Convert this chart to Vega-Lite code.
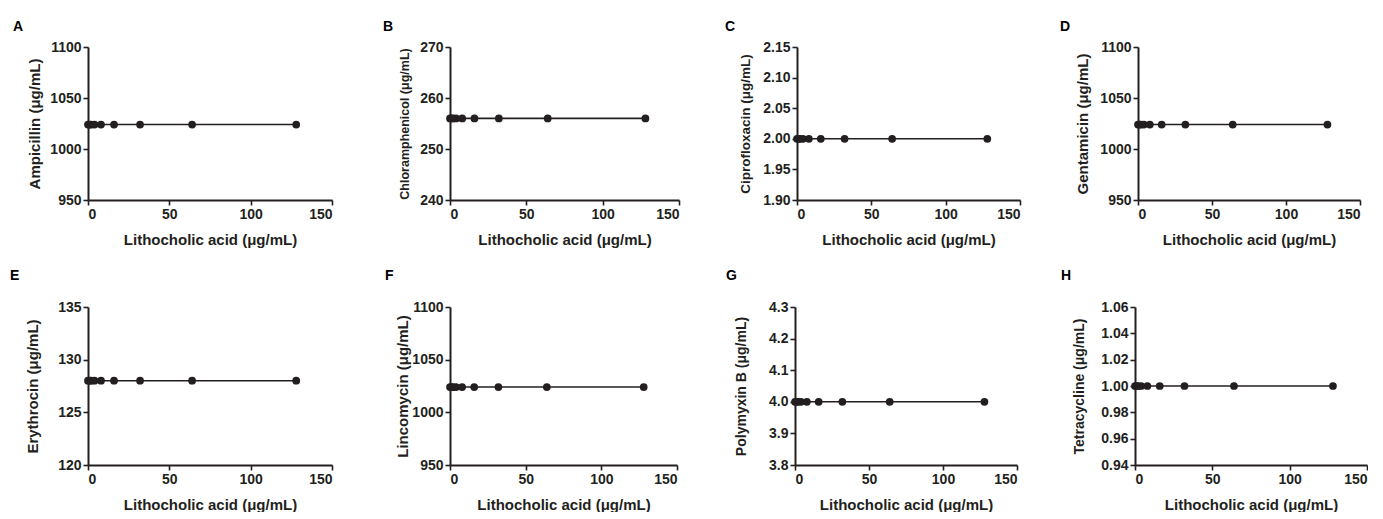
{
  "$schema": "https://vega.github.io/schema/vega-lite/v6.json",
  "padding": {"left": 10, "top": 20, "right": 0, "bottom": 0},
  "background": "white",
  "datasets": {
    "mic": [
      {"drug": "Ampicillin", "conc": 0, "mic": 1024}, {"drug": "Ampicillin", "conc": 1, "mic": 1024}, {"drug": "Ampicillin", "conc": 2, "mic": 1024}, {"drug": "Ampicillin", "conc": 4, "mic": 1024}, {"drug": "Ampicillin", "conc": 8, "mic": 1024}, {"drug": "Ampicillin", "conc": 16, "mic": 1024}, {"drug": "Ampicillin", "conc": 32, "mic": 1024}, {"drug": "Ampicillin", "conc": 64, "mic": 1024}, {"drug": "Ampicillin", "conc": 128, "mic": 1024},
      {"drug": "Chloramphenicol", "conc": 0, "mic": 256}, {"drug": "Chloramphenicol", "conc": 1, "mic": 256}, {"drug": "Chloramphenicol", "conc": 2, "mic": 256}, {"drug": "Chloramphenicol", "conc": 4, "mic": 256}, {"drug": "Chloramphenicol", "conc": 8, "mic": 256}, {"drug": "Chloramphenicol", "conc": 16, "mic": 256}, {"drug": "Chloramphenicol", "conc": 32, "mic": 256}, {"drug": "Chloramphenicol", "conc": 64, "mic": 256}, {"drug": "Chloramphenicol", "conc": 128, "mic": 256},
      {"drug": "Ciprofloxacin", "conc": 0, "mic": 2}, {"drug": "Ciprofloxacin", "conc": 1, "mic": 2}, {"drug": "Ciprofloxacin", "conc": 2, "mic": 2}, {"drug": "Ciprofloxacin", "conc": 4, "mic": 2}, {"drug": "Ciprofloxacin", "conc": 8, "mic": 2}, {"drug": "Ciprofloxacin", "conc": 16, "mic": 2}, {"drug": "Ciprofloxacin", "conc": 32, "mic": 2}, {"drug": "Ciprofloxacin", "conc": 64, "mic": 2}, {"drug": "Ciprofloxacin", "conc": 128, "mic": 2},
      {"drug": "Gentamicin", "conc": 0, "mic": 1024}, {"drug": "Gentamicin", "conc": 1, "mic": 1024}, {"drug": "Gentamicin", "conc": 2, "mic": 1024}, {"drug": "Gentamicin", "conc": 4, "mic": 1024}, {"drug": "Gentamicin", "conc": 8, "mic": 1024}, {"drug": "Gentamicin", "conc": 16, "mic": 1024}, {"drug": "Gentamicin", "conc": 32, "mic": 1024}, {"drug": "Gentamicin", "conc": 64, "mic": 1024}, {"drug": "Gentamicin", "conc": 128, "mic": 1024},
      {"drug": "Erythrocin", "conc": 0, "mic": 128}, {"drug": "Erythrocin", "conc": 1, "mic": 128}, {"drug": "Erythrocin", "conc": 2, "mic": 128}, {"drug": "Erythrocin", "conc": 4, "mic": 128}, {"drug": "Erythrocin", "conc": 8, "mic": 128}, {"drug": "Erythrocin", "conc": 16, "mic": 128}, {"drug": "Erythrocin", "conc": 32, "mic": 128}, {"drug": "Erythrocin", "conc": 64, "mic": 128}, {"drug": "Erythrocin", "conc": 128, "mic": 128},
      {"drug": "Lincomycin", "conc": 0, "mic": 1024}, {"drug": "Lincomycin", "conc": 1, "mic": 1024}, {"drug": "Lincomycin", "conc": 2, "mic": 1024}, {"drug": "Lincomycin", "conc": 4, "mic": 1024}, {"drug": "Lincomycin", "conc": 8, "mic": 1024}, {"drug": "Lincomycin", "conc": 16, "mic": 1024}, {"drug": "Lincomycin", "conc": 32, "mic": 1024}, {"drug": "Lincomycin", "conc": 64, "mic": 1024}, {"drug": "Lincomycin", "conc": 128, "mic": 1024},
      {"drug": "Polymyxin B", "conc": 0, "mic": 4}, {"drug": "Polymyxin B", "conc": 1, "mic": 4}, {"drug": "Polymyxin B", "conc": 2, "mic": 4}, {"drug": "Polymyxin B", "conc": 4, "mic": 4}, {"drug": "Polymyxin B", "conc": 8, "mic": 4}, {"drug": "Polymyxin B", "conc": 16, "mic": 4}, {"drug": "Polymyxin B", "conc": 32, "mic": 4}, {"drug": "Polymyxin B", "conc": 64, "mic": 4}, {"drug": "Polymyxin B", "conc": 128, "mic": 4},
      {"drug": "Tetracycline", "conc": 0, "mic": 1}, {"drug": "Tetracycline", "conc": 1, "mic": 1}, {"drug": "Tetracycline", "conc": 2, "mic": 1}, {"drug": "Tetracycline", "conc": 4, "mic": 1}, {"drug": "Tetracycline", "conc": 8, "mic": 1}, {"drug": "Tetracycline", "conc": 16, "mic": 1}, {"drug": "Tetracycline", "conc": 32, "mic": 1}, {"drug": "Tetracycline", "conc": 64, "mic": 1}, {"drug": "Tetracycline", "conc": 128, "mic": 1}
    ]
  },
  "data": {"name": "mic"},
  "spacing": 22,
  "vconcat": [
    {
      "bounds": "flush",
      "spacing": 118,
      "hconcat": [
        {
          "width": 244, "height": 153,
          "title": {"text": "A", "offset": 6, "dx": -75},
          "transform": [{"filter": "datum.drug === 'Ampicillin'"}],
          "encoding": {
            "x": {"field": "conc", "type": "quantitative", "scale": {"domain": [0, 150], "nice": false}, "axis": {"values": [0, 50, 100, 150], "title": "Lithocholic acid (μg/mL)"}},
            "y": {"field": "mic", "type": "quantitative", "scale": {"domain": [950, 1100], "nice": false, "zero": false}, "axis": {"values": [950, 1000, 1050, 1100], "format": "d", "title": "Ampicillin (μg/mL)", "minExtent": 46, "maxExtent": 46}}
          },
          "layer": [
            {"mark": {"type": "line", "color": "#231f20", "strokeWidth": 1.6}},
            {"mark": {"type": "point", "filled": true, "color": "#231f20", "opacity": 1, "size": 60}}
          ]
        },
        {
          "width": 229, "height": 153,
          "title": {"text": "B", "offset": 6, "dx": -67},
          "transform": [{"filter": "datum.drug === 'Chloramphenicol'"}],
          "encoding": {
            "x": {"field": "conc", "type": "quantitative", "scale": {"domain": [0, 150], "nice": false}, "axis": {"values": [0, 50, 100, 150], "title": "Lithocholic acid (μg/mL)"}},
            "y": {"field": "mic", "type": "quantitative", "scale": {"domain": [240, 270], "nice": false, "zero": false}, "axis": {"values": [240, 250, 260, 270], "format": "d", "title": "Chloramphenicol (μg/mL)", "titleFontSize": 12.5, "minExtent": 39, "maxExtent": 39}}
          },
          "layer": [
            {"mark": {"type": "line", "color": "#231f20", "strokeWidth": 1.6}},
            {"mark": {"type": "point", "filled": true, "color": "#231f20", "opacity": 1, "size": 60}}
          ]
        },
        {
          "width": 223, "height": 153,
          "title": {"text": "C", "offset": 6, "dx": -72},
          "transform": [{"filter": "datum.drug === 'Ciprofloxacin'"}],
          "encoding": {
            "x": {"field": "conc", "type": "quantitative", "scale": {"domain": [0, 150], "nice": false}, "axis": {"values": [0, 50, 100, 150], "title": "Lithocholic acid (μg/mL)"}},
            "y": {"field": "mic", "type": "quantitative", "scale": {"domain": [1.9, 2.15], "nice": false, "zero": false}, "axis": {"values": [1.9, 1.95, 2.0, 2.05, 2.1, 2.15], "format": ".2f", "title": "Ciprofloxacin (μg/mL)", "titleFontSize": 13.5, "minExtent": 45, "maxExtent": 45}}
          },
          "layer": [
            {"mark": {"type": "line", "color": "#231f20", "strokeWidth": 1.6}},
            {"mark": {"type": "point", "filled": true, "color": "#231f20", "opacity": 1, "size": 60}}
          ]
        },
        {
          "width": 222, "height": 153,
          "title": {"text": "D", "offset": 6, "dx": -78},
          "transform": [{"filter": "datum.drug === 'Gentamicin'"}],
          "encoding": {
            "x": {"field": "conc", "type": "quantitative", "scale": {"domain": [0, 150], "nice": false}, "axis": {"values": [0, 50, 100, 150], "title": "Lithocholic acid (μg/mL)"}},
            "y": {"field": "mic", "type": "quantitative", "scale": {"domain": [950, 1100], "nice": false, "zero": false}, "axis": {"values": [950, 1000, 1050, 1100], "format": "d", "title": "Gentamicin (μg/mL)", "minExtent": 48, "maxExtent": 48}}
          },
          "layer": [
            {"mark": {"type": "line", "color": "#231f20", "strokeWidth": 1.6}},
            {"mark": {"type": "point", "filled": true, "color": "#231f20", "opacity": 1, "size": 60}}
          ]
        }
      ]
    },
    {
      "bounds": "flush",
      "spacing": 118,
      "hconcat": [
        {
          "width": 244, "height": 158,
          "title": {"text": "E", "offset": 17, "dx": -78},
          "transform": [{"filter": "datum.drug === 'Erythrocin'"}],
          "encoding": {
            "x": {"field": "conc", "type": "quantitative", "scale": {"domain": [0, 150], "nice": false}, "axis": {"values": [0, 50, 100, 150], "title": "Lithocholic acid (μg/mL)"}},
            "y": {"field": "mic", "type": "quantitative", "scale": {"domain": [120, 135], "nice": false, "zero": false}, "axis": {"values": [120, 125, 130, 135], "format": "d", "title": "Erythrocin (μg/mL)", "minExtent": 48, "maxExtent": 48}}
          },
          "layer": [
            {"mark": {"type": "line", "color": "#231f20", "strokeWidth": 1.6}},
            {"mark": {"type": "point", "filled": true, "color": "#231f20", "opacity": 1, "size": 60}}
          ]
        },
        {
          "width": 227, "height": 158,
          "title": {"text": "F", "offset": 17, "dx": -65},
          "transform": [{"filter": "datum.drug === 'Lincomycin'"}],
          "encoding": {
            "x": {"field": "conc", "type": "quantitative", "scale": {"domain": [0, 150], "nice": false}, "axis": {"values": [0, 50, 100, 150], "title": "Lithocholic acid (μg/mL)"}},
            "y": {"field": "mic", "type": "quantitative", "scale": {"domain": [950, 1100], "nice": false, "zero": false}, "axis": {"values": [950, 1000, 1050, 1100], "format": "d", "title": "Lincomycin (μg/mL)", "minExtent": 40, "maxExtent": 40}}
          },
          "layer": [
            {"mark": {"type": "line", "color": "#231f20", "strokeWidth": 1.6}},
            {"mark": {"type": "point", "filled": true, "color": "#231f20", "opacity": 1, "size": 60}}
          ]
        },
        {
          "width": 222, "height": 158,
          "title": {"text": "G", "offset": 17, "dx": -69},
          "transform": [{"filter": "datum.drug === 'Polymyxin B'"}],
          "encoding": {
            "x": {"field": "conc", "type": "quantitative", "scale": {"domain": [0, 150], "nice": false}, "axis": {"values": [0, 50, 100, 150], "title": "Lithocholic acid (μg/mL)"}},
            "y": {"field": "mic", "type": "quantitative", "scale": {"domain": [3.8, 4.3], "nice": false, "zero": false}, "axis": {"values": [3.8, 3.9, 4.0, 4.1, 4.2, 4.3], "format": ".1f", "title": "Polymyxin B (μg/mL)", "titleFontSize": 14, "minExtent": 47, "maxExtent": 47}}
          },
          "layer": [
            {"mark": {"type": "line", "color": "#231f20", "strokeWidth": 1.6}},
            {"mark": {"type": "point", "filled": true, "color": "#231f20", "opacity": 1, "size": 60}}
          ]
        },
        {
          "width": 232, "height": 158,
          "title": {"text": "H", "offset": 17, "dx": -74},
          "transform": [{"filter": "datum.drug === 'Tetracycline'"}],
          "encoding": {
            "x": {"field": "conc", "type": "quantitative", "scale": {"domain": [0, 150], "nice": false}, "axis": {"values": [0, 50, 100, 150], "title": "Lithocholic acid (μg/mL)"}},
            "y": {"field": "mic", "type": "quantitative", "scale": {"domain": [0.94, 1.06], "nice": false, "zero": false}, "axis": {"values": [0.94, 0.96, 0.98, 1.0, 1.02, 1.04, 1.06], "format": ".2f", "title": "Tetracycline (μg/mL)", "titleFontSize": 14, "minExtent": 49, "maxExtent": 49}}
          },
          "layer": [
            {"mark": {"type": "line", "color": "#231f20", "strokeWidth": 1.6}},
            {"mark": {"type": "point", "filled": true, "color": "#231f20", "opacity": 1, "size": 60}}
          ]
        }
      ]
    }
  ],
  "config": {
    "view": {"stroke": null},
    "font": "Liberation Sans",
    "title": {"font": "Liberation Sans", "fontSize": 14, "fontWeight": "bold", "anchor": "start", "frame": "group", "color": "#000000"},
    "axis": {
      "grid": false,
      "domainColor": "#231f20",
      "domainWidth": 2,
      "tickColor": "#231f20",
      "tickWidth": 1.6,
      "tickSize": 5,
      "labelFont": "Liberation Sans",
      "labelFontSize": 14,
      "labelFontWeight": "bold",
      "labelColor": "#231f20",
      "titleFont": "Liberation Sans",
      "titleFontSize": 15,
      "titleFontWeight": "bold",
      "titleColor": "#231f20"
    },
    "axisY": {"titlePadding": 0, "labelPadding": 2},
    "axisX": {"titlePadding": 11, "labelPadding": 2}
  }
}
